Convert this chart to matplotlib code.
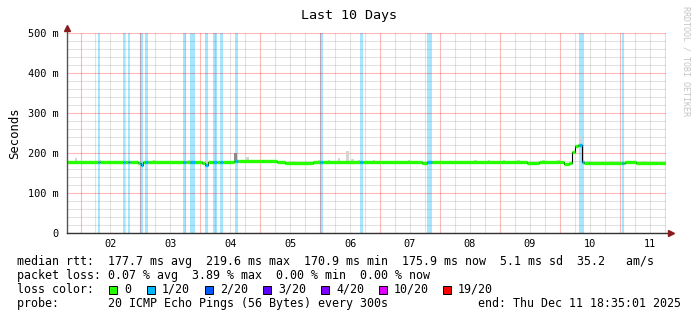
import matplotlib
matplotlib.use('Agg')
import matplotlib.pyplot as plt
from matplotlib.patches import Rectangle
import numpy as np

# ---------------- data ----------------
# median rtt (ms) as step segments: start hour (from graph start) and value
seg_start_h = [0, 28.4, 29.6, 30.4, 54.0, 55.2, 56.4, 66.8, 84.0, 87.2, 98.4, 142.4, 144.4,
               184.4, 189.2, 197.2, 199.2, 201.2, 202.4, 203.6, 204.8, 206.4, 207.2, 209.2,
               223.6, 228.0, 237.2]
seg_value_ms = [177.5, 175.0, 171.0, 177.5, 175.0, 171.0, 178.0, 180.5, 178.0, 175.0, 178.0, 176.0, 177.5,
                176.0, 178.0, 176.5, 172.5, 176.0, 202.0, 217.0, 220.0, 178.0, 176.0, 175.0,
                178.0, 175.0, 176.0]
total_hours = 240.0

# packet-loss intervals (hours) — all 1/20
loss_start_h = [12.4, 22.4, 24.4, 29.2, 31.2, 46.4, 49.2, 55.2, 58.4, 61.2, 67.2, 101.2, 117.2, 144.4, 205.2, 222.3]
loss_end_h = [13.4, 23.4, 25.2, 30.4, 32.4, 47.5, 51.2, 56.3, 60.3, 62.4, 68.4, 102.4, 118.4, 146.4, 207.2, 223.2]

# smoke spikes: hour, top value (ms), shade
smoke_h = [3.6, 13, 35, 47, 49, 56, 67.6, 72.4, 77, 91, 101, 105, 109, 112.4, 114.4, 117, 123, 137,
           163.6, 169, 175, 181, 191, 197, 206, 209, 218, 226, 231]
smoke_top = [188, 182, 182, 183, 182, 182, 200, 190, 181, 181, 183, 183, 188, 204, 184, 183, 182, 182,
             183, 182, 183, 182, 183, 182, 240, 181, 181, 181, 180]
smoke_dark = [0, 0, 0, 0, 0, 0, 1, 0, 0, 0, 0, 0, 0, 0, 0, 0, 0, 0,
              0, 0, 0, 0, 0, 0, 0, 0, 0, 0, 0]

day_labels = ['02', '03', '04', '05', '06', '07', '08', '09', '10', '11']
first_midnight_h = 5.0 + 25.0 / 60.0   # graph starts Dec 1 18:35

y_ticks = [0, 100, 200, 300, 400, 500]
y_labels = ['0', '100 m', '200 m', '300 m', '400 m', '500 m']

loss_colors = ['#26ff00', '#00b8ff', '#0059ff', '#5e00ff', '#7e00ff', '#dd00ff', '#ff0000']
loss_labels = ['0', '1/20', '2/20', '3/20', '4/20', '10/20', '19/20']

stats_lines = [
    "median rtt:  177.7 ms avg  219.6 ms max  170.9 ms min  175.9 ms now  5.1 ms sd  35.2   am/s",
    "packet loss: 0.07 % avg  3.89 % max  0.00 % min  0.00 % now",
]
probe_line = "probe:       20 ICMP Echo Pings (56 Bytes) every 300s"
end_line = "end: Thu Dec 11 18:35:01 2025"

# ---------------- figure ----------------
W, H = 697, 321
fig = plt.figure(figsize=(W / 100, H / 100), dpi=100)
fig.patch.set_facecolor('white')
x0, x1, ytop, ybot = 67, 666, 33, 233
ax = fig.add_axes([x0 / W, 1 - ybot / H, (x1 - x0) / W, (ybot - ytop) / H])
ax.set_xlim(0, total_hours)
ax.set_ylim(0, 500)
ax.set_facecolor('white')
mono = 'DejaVu Sans Mono'

# loss bands
for s, e in zip(loss_start_h, loss_end_h):
    ax.axvspan(s, e, color='#a6e6ff', lw=0, zorder=0)

# grid
for h in np.arange(first_midnight_h - 24, total_hours + 0.01, 6):
    if h < 0:
        continue
    is_major = abs(((h - first_midnight_h) / 24) - round((h - first_midnight_h) / 24)) < 1e-6
    if is_major:
        ax.axvline(h, color=(1, 0, 0, 0.28), lw=0.8, zorder=1)
    else:
        ax.axvline(h, color=(0.5, 0.5, 0.5, 0.22), lw=0.8, zorder=1)
for v in range(0, 501, 20):
    if v % 100 == 0:
        ax.axhline(v, color=(1, 0, 0, 0.28), lw=0.8, zorder=1)
    else:
        ax.axhline(v, color=(0.5, 0.5, 0.5, 0.22), lw=0.8, zorder=1)
ax.axvline(total_hours, color=(0.85, 0.2, 0.2, 0.5), lw=0.8, zorder=1)

# median as function
seg_end_h = seg_start_h[1:] + [total_hours]


def median_at(h):
    i = np.searchsorted(seg_start_h, h, side='right') - 1
    return seg_value_ms[max(i, 0)]


# smoke
for h, top, dk in zip(smoke_h, smoke_top, smoke_dark):
    base = median_at(h)
    ax.bar(h, top - base, bottom=base, width=1.0, color='#8a8a8a' if dk else '#d4d4d4',
           lw=0, zorder=2, align='center')

# thin black step line for transitions
xs = list(seg_start_h) + [total_hours]
ys = list(seg_value_ms) + [seg_value_ms[-1]]
ax.step(xs, ys, where='post', color='black', lw=0.8, zorder=3)

# thick colored horizontal segments
for s, e, v in zip(seg_start_h, seg_end_h, seg_value_ms):
    cuts = [s, e]
    for ls, le in zip(loss_start_h, loss_end_h):
        for c in (ls, le):
            if s < c < e:
                cuts.append(c)
    cuts = sorted(cuts)
    for a, b in zip(cuts[:-1], cuts[1:]):
        mid = (a + b) / 2
        lossy = any(ls <= mid <= le for ls, le in zip(loss_start_h, loss_end_h))
        ax.hlines(v, a, b, colors=loss_colors[1] if lossy else loss_colors[0],
                  lw=2.4, zorder=4)

# axes styling
for sp in ax.spines.values():
    sp.set_visible(False)
ax.set_yticks(y_ticks)
ax.set_yticklabels(y_labels, family=mono, fontsize=7.4)
noon_ticks = [first_midnight_h + 12 + 24 * i for i in range(len(day_labels))]
ax.set_xticks(noon_ticks)
ax.set_xticklabels(day_labels, family=mono, fontsize=7.4)
ax.tick_params(axis='both', length=0, pad=4)
ax.tick_params(axis='y', pad=6)

# axis lines with arrows
ax.plot([0, 0], [0, 1.025], transform=ax.transAxes, color='#555555', lw=1, clip_on=False, zorder=6)
ax.plot([0, 1.008], [0, 0], transform=ax.transAxes, color='#333333', lw=1, clip_on=False, zorder=6)
ax.plot([0], [1.025], marker='^', ms=5, color='#8b1a1a', transform=ax.transAxes, clip_on=False, zorder=7)
ax.plot([1.008], [0], marker='>', ms=5, color='#8b1a1a', transform=ax.transAxes, clip_on=False, zorder=7)

ax.set_ylabel('Seconds', family=mono, fontsize=8.8, labelpad=5)

# title
fig.text(349 / W, 1 - 16 / H, 'Last 10 Days', family=mono, fontsize=9.6, ha='center', va='center')
# watermark
fig.text(686 / W, 1 - 61 / H, 'RRDTOOL / TOBI OETIKER', family=mono, fontsize=6.0, color='#c4c4c4',
         rotation=-90, ha='center', va='center')

# legend text
lx = 16.7
fs = 8.42
fig.text(lx / W, 1 - 262 / H, stats_lines[0], family=mono, fontsize=fs, va='center', ha='left')
fig.text(lx / W, 1 - 275.5 / H, stats_lines[1], family=mono, fontsize=fs, va='center', ha='left')
fig.text(lx / W, 1 - 289.3 / H, 'loss color:', family=mono, fontsize=fs, va='center', ha='left')
box_x = [109, 147, 205, 263, 321, 379, 443]
for bx, c, lab in zip(box_x, loss_colors, loss_labels):
    fig.add_artist(Rectangle((bx / W, 1 - 293.5 / H), 8 / W, 8 / H, transform=fig.transFigure,
                             facecolor=c, edgecolor='black', lw=0.7))
    fig.text((bx + 15) / W, 1 - 289.3 / H, lab, family=mono, fontsize=fs, va='center', ha='left')
fig.text(lx / W, 1 - 303.3 / H, probe_line, family=mono, fontsize=fs, va='center', ha='left')
fig.text(478 / W, 1 - 303.3 / H, end_line, family=mono, fontsize=fs, va='center', ha='left')

fig.savefig('out.png', dpi=100, facecolor='white')
